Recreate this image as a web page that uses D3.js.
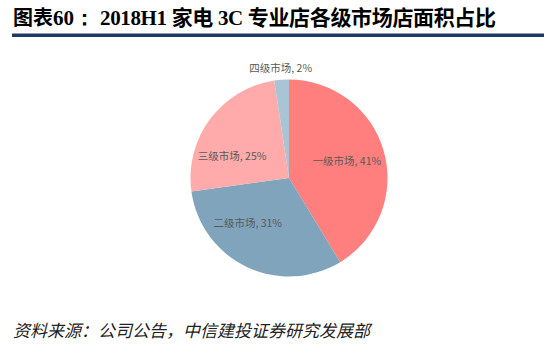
<!DOCTYPE html>
<html><head><meta charset="utf-8">
<script src="https://cdn.jsdelivr.net/npm/d3@7"></script>
<style>body{margin:0;background:#fff}svg{display:block}</style>
</head><body>
<svg id="c" width="544" height="350"></svg>
<script>
const categories = ["一级市场", "二级市场", "三级市场", "四级市场"];
const values = [41.3, 31.5, 24.8, 2.4];
const labelPct = ["41%", "31%", "25%", "2%"];
const colors = ["#FF7F7F", "#7FA4BC", "#FFABAB", "#A9C4D4"];

const svg = d3.select("#c");
// Title
const t = svg.append("text").attr("x", 13).attr("y", 25).attr("font-weight", "bold").attr("fill", "#000");
t.append("tspan").attr("font-family", "'Noto Sans CJK SC'").attr("font-size", 20).text("图表");
t.append("tspan").attr("font-family", "'Liberation Serif'").attr("font-size", 21).text("60：");
svg.append("text").attr("x", 100).attr("y", 25).attr("font-weight", "bold").attr("fill", "#000")
  .attr("font-family", "'Liberation Serif','Noto Sans CJK SC'").attr("font-size", 21)
  .attr("textLength", 396).attr("lengthAdjust", "spacing")
  .text("2018H1 家电 3C 专业店各级市场店面积占比");
svg.append("rect").attr("x", 12).attr("y", 33.5).attr("width", 532).attr("height", 3.5).attr("fill", "#1F3864");

// Pie
const cx = 289, cy = 178, R = 98.5;
const g = svg.append("g").attr("transform", `translate(${cx},${cy})`);
const pie = d3.pie().sort(null).value(d => d)(values);
const arc = d3.arc().innerRadius(0).outerRadius(R);
g.selectAll("path").data(pie).enter().append("path")
  .attr("d", arc).attr("fill", (d, i) => colors[i]);

// labels
const angleShift = [0, 0.3, -0.27, 0];
const radiusF = [0.61, 0.62, 0.62, 1.12];
g.selectAll("text.lab").data(pie).enter().append("text")
  .attr("class", "lab")
  .attr("transform", (d, i) => {
    const a = (d.startAngle + d.endAngle) / 2 + angleShift[i];
    const r = R * radiusF[i];
    return `translate(${r * Math.sin(a)},${-r * Math.cos(a)})`;
  })
  .attr("text-anchor", "middle").attr("dy", "0.35em")
  .attr("font-family", "'Noto Sans CJK SC'").attr("font-size", 10.5).attr("fill", "#595959")
  .text((d, i) => categories[i] + ", " + labelPct[i]);

// Footer
svg.append("text").attr("x", 13).attr("y", 337).attr("font-style", "italic")
  .attr("font-family", "'Noto Sans CJK SC'").attr("font-size", 17).attr("fill", "#222")
  .text("资料来源：公司公告，中信建投证券研究发展部");
</script>
</body></html>
